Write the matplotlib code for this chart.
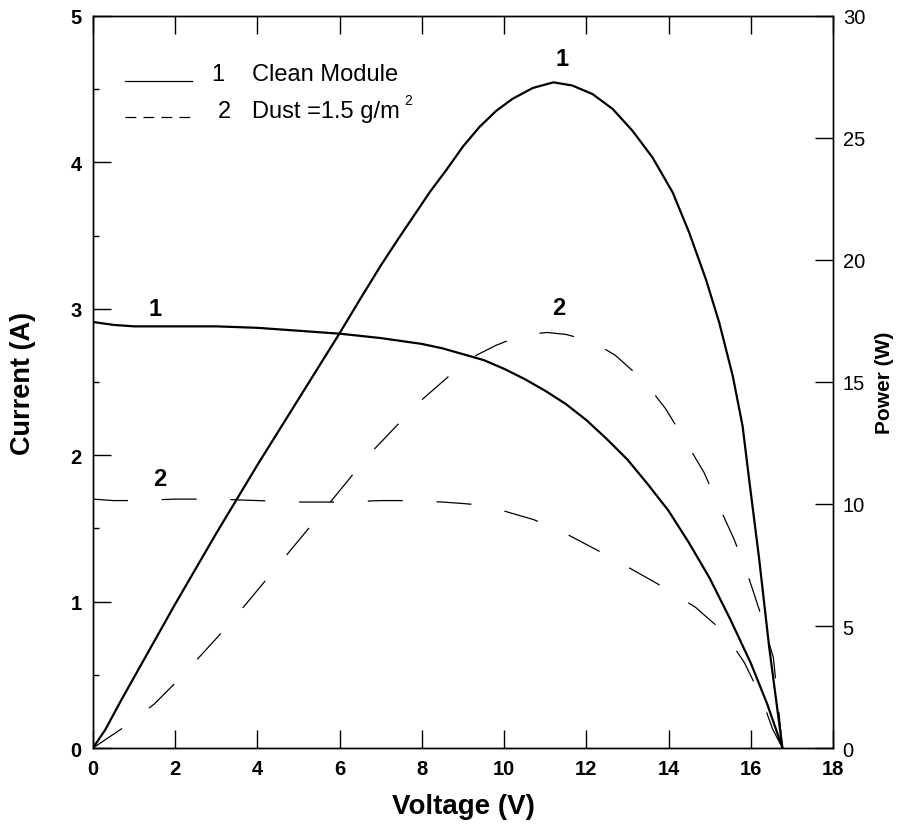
import numpy as np
import matplotlib.pyplot as plt
from matplotlib.ticker import MultipleLocator

plt.rcParams['font.family'] = ['Liberation Sans', 'DejaVu Sans']

# curve 1 : clean module, current (A) vs voltage (V)
v_clean_iv = [0, 0.25, 0.5, 1.0, 2.0, 3.0, 4.0, 5.0, 6.0, 7.0, 8.0, 8.5, 9.0, 9.5, 10.0, 10.5,
              11.0, 11.5, 12.0, 12.5, 13.0, 13.5, 14.0, 14.5, 15.0, 15.5, 16.0, 16.4, 16.77]
i_clean = [2.91, 2.90, 2.89, 2.88, 2.88, 2.88, 2.87, 2.85, 2.83, 2.80, 2.76, 2.73, 2.69, 2.65, 2.59, 2.52,
           2.44, 2.35, 2.24, 2.11, 1.97, 1.80, 1.62, 1.40, 1.16, 0.88, 0.58, 0.30, 0.0]

# curve 1 : clean module, power (W)
v_clean_p = [0, 0.3, 0.7, 1.0, 2.0, 3.0, 4.0, 5.0, 6.0, 6.5, 7.0, 7.4, 7.8, 8.2, 8.6, 9.0,
             9.4, 9.8, 10.2, 10.7, 11.2, 11.66, 12.15, 12.64, 13.12, 13.61, 14.1, 14.5, 14.91,
             15.23, 15.56, 15.8, 15.96, 16.2, 16.45, 16.77]
p_clean = [0, 0.75, 2.0, 2.9, 5.9, 8.8, 11.6, 14.3, 17.0, 18.4, 19.77, 20.8, 21.8, 22.8, 23.7, 24.65,
           25.45, 26.1, 26.6, 27.05, 27.28, 27.15, 26.8, 26.19, 25.3, 24.2, 22.77, 21.13, 19.2,
           17.45, 15.26, 13.2, 11.0, 7.8, 4.1, 0]

# curve 2 : dust 1.5 g/m2, current (A)
v_dust_iv = [0, 0.5, 1.0, 2.0, 3.0, 4.0, 5.0, 6.0, 7.0, 7.6, 8.5, 9.0, 9.4, 9.86, 10.72,
             11.53, 12.34, 13.11, 13.93, 14.66, 15.35, 15.84, 16.24, 16.53, 16.77]
i_dust = [1.70, 1.69, 1.69, 1.70, 1.70, 1.69, 1.68, 1.68, 1.69, 1.69, 1.68, 1.67, 1.66, 1.63, 1.56,
          1.46, 1.34, 1.22, 1.09, 0.96, 0.79, 0.585, 0.357, 0.13, 0]

# curve 2 : dust 1.5 g/m2, power (W)
v_dust_p = [0, 0.76, 1.49, 2.1, 3.32, 4.46, 5.59, 6.73, 7.95, 8.7, 9.33, 9.8, 10.19, 10.6, 11.04,
            11.5, 11.93, 12.3, 12.7, 13.4, 13.93, 14.4, 14.86, 15.22, 15.59, 15.92, 16.2, 16.55, 16.77]
p_dust = [0, 0.86, 1.8, 2.83, 5.08, 7.4, 9.7, 12.05, 14.2, 15.3, 16.1, 16.5, 16.76, 16.95, 17.03,
          16.95, 16.76, 16.5, 16.1, 15.05, 13.9, 12.6, 11.3, 9.93, 8.57, 7.13, 5.7, 3.7, 0]

fig = plt.figure(figsize=(8.99, 8.28), dpi=100)
ax = fig.add_axes([0.1034, 0.0954, 0.8232, 0.8841])
ax2 = ax.twinx()

ax.plot(v_clean_iv, i_clean, color='k', lw=1.6)
ax.plot(v_dust_iv, i_dust, color='k', lw=0.9, dashes=(28, 27))
ax2.plot(v_clean_p, p_clean, color='k', lw=1.6)
ax2.plot(v_dust_p, p_dust, color='k', lw=0.9, dashes=(28, 27))

ax.set_xlim(0, 18)
ax.set_ylim(0, 5)
ax2.set_ylim(0, 30)

ax.xaxis.set_major_locator(MultipleLocator(2))
ax.yaxis.set_major_locator(MultipleLocator(1))
ax.yaxis.set_minor_locator(MultipleLocator(0.5))
ax2.yaxis.set_major_locator(MultipleLocator(5))

ax.tick_params(axis='x', which='major', direction='in', length=13, width=1,
               top=True, labelsize=14.5, pad=8)
ax.tick_params(axis='y', which='major', direction='in', length=13, width=1,
               labelsize=14.5, pad=8)
ax.tick_params(axis='y', which='minor', direction='in', length=4.5, width=1)
ax2.tick_params(axis='y', direction='in', length=13, width=1, labelsize=14.5, pad=7)

for lab in ax.get_xticklabels() + ax.get_yticklabels():
    lab.set_fontweight('bold')

for a in (ax, ax2):
    for s in a.spines.values():
        s.set_linewidth(1.0)

ax.set_xlabel('Voltage (V)', fontsize=20, fontweight='bold')
ax.xaxis.set_label_coords(0.5, -0.062)
ax.set_ylabel('Current (A)', fontsize=19.5, fontweight='bold')
ax.yaxis.set_label_coords(-0.077, 0.5)
ax2.set_ylabel('Power (W)', fontsize=15, fontweight='bold')
ax2.yaxis.set_label_coords(1.057, 0.5)

# curve numbers
ax.text(11.4, 4.71, '1', fontsize=17, fontweight='bold', ha='center', va='center')
ax.text(11.33, 3.01, '2', fontsize=17, fontweight='bold', ha='center', va='center')
ax.text(1.52, 3.0, '1', fontsize=17, fontweight='bold', ha='center', va='center')
ax.text(1.62, 1.84, '2', fontsize=17, fontweight='bold', ha='center', va='center')

# hand made legend
ax.plot([0.043, 0.134], [0.9116, 0.9116], transform=ax.transAxes, color='k', lw=0.9)
ax.plot([0.043, 0.141], [0.862, 0.862], transform=ax.transAxes, color='k', lw=0.9,
        dashes=(8.6, 5.8))
ax.text(0.169, 0.921, '1', transform=ax.transAxes, fontsize=17, ha='center', va='center')
ax.text(0.215, 0.921, 'Clean Module', transform=ax.transAxes, fontsize=17, ha='left', va='center')
ax.text(0.178, 0.870, '2', transform=ax.transAxes, fontsize=17, ha='center', va='center')
t = ax.text(0.215, 0.870, 'Dust =1.5 g/m', transform=ax.transAxes, fontsize=17,
            ha='left', va='center')
ax.annotate('2', xy=(1, 1), xycoords=t, xytext=(3, 5), textcoords='offset points',
            fontsize=10, ha='left', va='top')

fig.savefig('out.png', dpi=100)
